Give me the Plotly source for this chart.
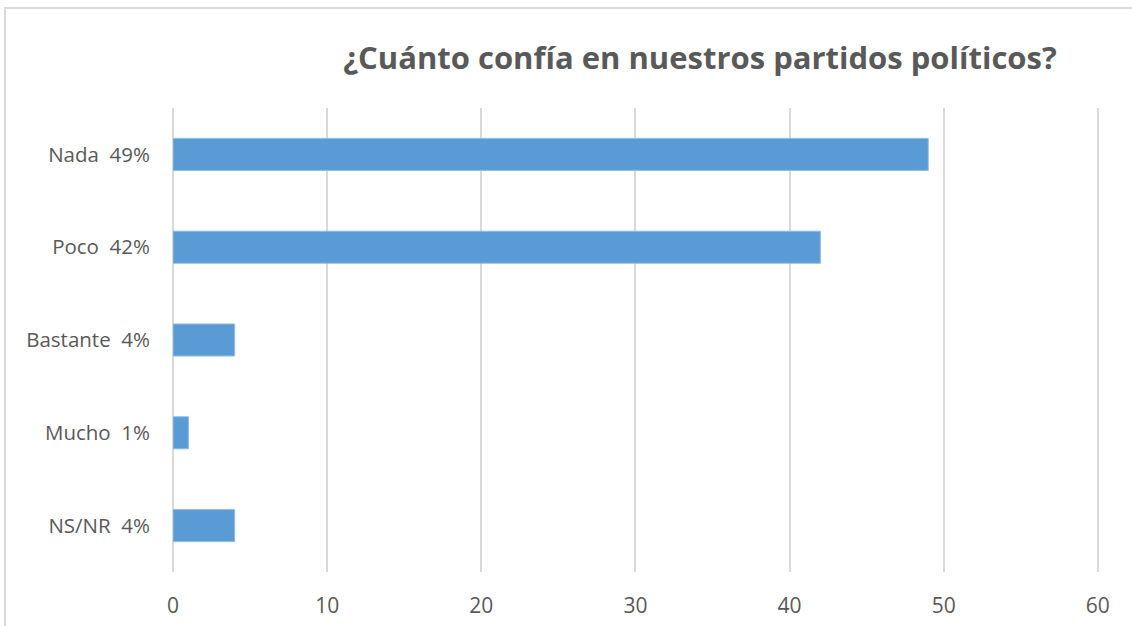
import plotly.graph_objects as go

# confidence in political parties (survey results, %)
categories = ['Nada', 'Poco', 'Bastante', 'Mucho', 'NS/NR']
values = [49, 42, 4, 1, 4]
x_ticks = [0, 10, 20, 30, 40, 50, 60]

labels = ['{}\u00a0\u00a0{}%'.format(c, v) for c, v in zip(categories, values)]

fig = go.Figure()
fig.add_trace(go.Bar(
    y=labels, x=values, orientation='h',
    marker=dict(color='#5b9bd5', line=dict(color='#8fbbe3', width=1)),
    width=0.345,
))

grey = '#595959'
fig.update_layout(
    width=1132, height=626,
    margin=dict(l=173, r=33, t=108, b=54),
    paper_bgcolor='white', plot_bgcolor='white',
    title=dict(text='<b>¿Cuánto confía en nuestros partidos políticos?</b>',
               x=(700 / 1132), xanchor='center', y=1 - 58 / 626, yanchor='middle',
               font=dict(family='Open Sans', size=31, color=grey)),
    showlegend=False,
    font=dict(family='Open Sans', color=grey),
    # chart frame, partly cropped by the picture edge
    shapes=[dict(type='rect', xref='paper', yref='paper',
                 x0=(5 - 173) / 926, x1=1.2, y0=-0.3, y1=(572 - 8) / 464,
                 line=dict(color='#d9d9d9', width=2), layer='below')],
)
fig.update_xaxes(range=[0, 60.08], tickvals=x_ticks, showgrid=True, gridcolor='#d9d9d9',
                 gridwidth=2, zeroline=True, zerolinecolor='#d9d9d9', zerolinewidth=2,
                 showline=False, ticklabelstandoff=19, tickfont=dict(size=21, color=grey),
                 fixedrange=True, automargin=False)
fig.update_yaxes(categoryorder='array', categoryarray=labels, autorange='reversed',
                 showgrid=False, showline=False, ticklabelstandoff=22,
                 tickfont=dict(size=20.5, color=grey), fixedrange=True, automargin=False)

fig.write_html('out.html', config={'displayModeBar': False},
               post_script="document.body.style.margin='0';")
